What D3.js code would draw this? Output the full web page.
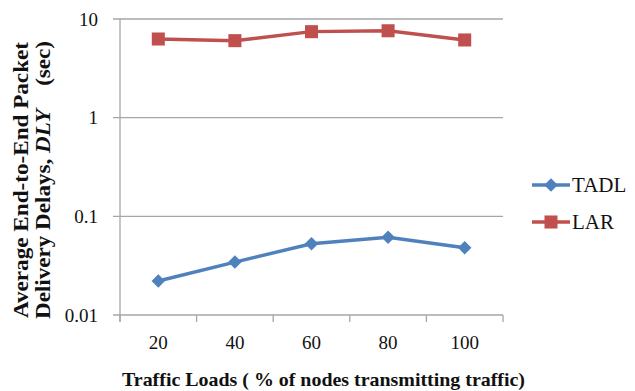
<!DOCTYPE html>
<html>
<head>
<meta charset="utf-8">
<script src="https://cdn.jsdelivr.net/npm/d3@7"></script>
<style>
  body { margin: 0; background: #fff; }
  svg text { font-family: 'Liberation Serif', 'Times New Roman', serif; }
</style>
</head>
<body>
<div id="chart"></div>
<script>
const width = 635, height = 391;

// data
const loads = ["20", "40", "60", "80", "100"];
const tadl = [0.0221, 0.0344, 0.0527, 0.0613, 0.0481];
const lar = [6.27, 6.03, 7.44, 7.6, 6.13];
const yTicks = [0.01, 0.1, 1, 10];
const yTickLabels = ["0.01", "0.1", "1", "10"];

const series = [
  { name: "TADL", values: tadl, color: "#4F81BD", shape: "diamond" },
  { name: "LAR", values: lar, color: "#C0504D", shape: "square" }
];

const plot = { left: 120, right: 503, top: 19, bottom: 315 };

const svg = d3.select("#chart").append("svg")
    .attr("width", width)
    .attr("height", height);

const x = d3.scaleBand()
    .domain(loads)
    .range([plot.left, plot.right]);

const y = d3.scaleLog()
    .domain([0.01, 10])
    .range([plot.bottom, plot.top]);

// horizontal gridlines
svg.append("g").selectAll("line")
    .data(yTicks)
    .enter().append("line")
    .attr("x1", plot.left - 7)
    .attr("x2", plot.right)
    .attr("y1", d => y(d))
    .attr("y2", d => y(d))
    .style("stroke", "#a6a6a6")
    .style("stroke-width", 1.3);

// y axis line
svg.append("line")
    .attr("x1", plot.left).attr("x2", plot.left)
    .attr("y1", plot.top).attr("y2", plot.bottom + 7)
    .style("stroke", "#a6a6a6")
    .style("stroke-width", 1.3);

// x category ticks
const bounds = loads.map(d => x(d)).concat([x(loads[loads.length - 1]) + x.bandwidth()]);
svg.append("g").selectAll("line")
    .data(bounds)
    .enter().append("line")
    .attr("x1", d => d).attr("x2", d => d)
    .attr("y1", plot.bottom).attr("y2", plot.bottom + 7)
    .style("stroke", "#a6a6a6")
    .style("stroke-width", 1.3);

// y tick labels
svg.append("g").selectAll("text")
    .data(yTicks)
    .enter().append("text")
    .attr("x", 98)
    .attr("y", d => y(d))
    .attr("dy", "0.35em")
    .attr("text-anchor", "end")
    .style("font-size", "19px")
    .style("fill", "#111")
    .text((d, i) => yTickLabels[i]);

// x tick labels
svg.append("g").selectAll("text")
    .data(loads)
    .enter().append("text")
    .attr("x", d => x(d) + x.bandwidth() / 2)
    .attr("y", 342)
    .attr("dy", "0.35em")
    .attr("text-anchor", "middle")
    .style("font-size", "19px")
    .style("fill", "#111")
    .text(d => d);

// lines and markers
const line = d3.line()
    .x((d, i) => x(loads[i]) + x.bandwidth() / 2)
    .y(d => y(d));

const diamond = d3.symbol().type(d3.symbolDiamond2).size(115);
const square = d3.symbol().type(d3.symbolSquare).size(170);

series.forEach(s => {
  const g = svg.append("g");
  g.append("path")
      .attr("d", line(s.values))
      .style("fill", "none")
      .style("stroke", s.color)
      .style("stroke-width", 3.4);
  g.selectAll("path.mark")
      .data(s.values)
      .enter().append("path")
      .attr("class", "mark")
      .attr("transform", (d, i) => "translate(" + (x(loads[i]) + x.bandwidth() / 2) + "," + y(d) + ")")
      .attr("d", s.shape == "diamond" ? diamond() : square())
      .style("fill", s.color);
});

// legend
const legend = svg.append("g").selectAll("g")
    .data(series)
    .enter().append("g")
    .attr("transform", (d, i) => "translate(532," + (185 + i * 37) + ")");
legend.append("line")
    .attr("x1", 0).attr("x2", 38)
    .style("stroke", d => d.color)
    .style("stroke-width", 3.4);
legend.append("path")
    .attr("transform", "translate(19,0)")
    .attr("d", d => d.shape == "diamond" ? diamond() : square())
    .style("fill", d => d.color);
legend.append("text")
    .attr("x", 40)
    .attr("dy", "0.35em")
    .style("font-size", "21px")
    .style("fill", "#111")
    .text(d => d.name);

// x axis title
const xt = svg.append("text")
    .attr("x", 122)
    .attr("y", 386)
    .attr("textLength", 403)
    .attr("lengthAdjust", "spacingAndGlyphs")
    .style("font-size", "19px")
    .style("font-weight", "bold")
    .style("fill", "#111");
xt.append("tspan").text("Traffic  Loads");
xt.append("tspan").text(" ( % of nodes transmitting traffic)");

// y axis title, two lines
const yt = svg.append("g").attr("transform", "translate(0,180) rotate(-90)");
yt.append("text")
    .attr("x", 0)
    .attr("y", 28)
    .attr("text-anchor", "middle")
    .attr("textLength", 276)
    .attr("lengthAdjust", "spacingAndGlyphs")
    .style("font-size", "20px")
    .style("font-weight", "bold")
    .style("fill", "#111")
    .text("Average End-to-End Packet");
const yt2 = yt.append("text")
    .attr("x", 0)
    .attr("y", 50)
    .attr("text-anchor", "middle")
    .attr("textLength", 278)
    .attr("lengthAdjust", "spacingAndGlyphs")
    .style("font-size", "20px")
    .style("font-weight", "bold")
    .style("fill", "#111");
yt2.append("tspan").text("Delivery Delays, ");
yt2.append("tspan").style("font-style", "italic").text("DLY");
yt2.append("tspan").attr("xml:space", "preserve").text("    (sec)");
</script>
</body>
</html>
